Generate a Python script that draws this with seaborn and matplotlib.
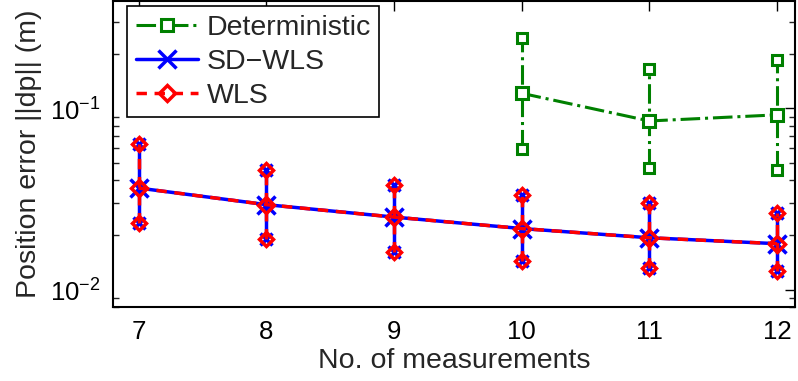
import numpy as np
import pandas as pd
import matplotlib
matplotlib.use("Agg")
import matplotlib.pyplot as plt
import seaborn as sns
from matplotlib.lines import Line2D

# ---- data ----
n_meas = [7, 8, 9, 10, 11, 12]
sdwls_mean = [0.0363, 0.0294, 0.0251, 0.0217, 0.0193, 0.0179]
sdwls_low = [0.0234, 0.0190, 0.0162, 0.0143, 0.0132, 0.0126]
sdwls_high = [0.0638, 0.0455, 0.0376, 0.0333, 0.0299, 0.0266]
wls_mean = [0.0363, 0.0294, 0.0251, 0.0217, 0.0193, 0.0179]
wls_low = [0.0234, 0.0190, 0.0162, 0.0143, 0.0132, 0.0126]
wls_high = [0.0638, 0.0455, 0.0376, 0.0333, 0.0299, 0.0266]
det_x = [10, 11, 12]
det_mean = [0.121, 0.0851, 0.092]
det_low = [0.0597, 0.0469, 0.0454]
det_high = [0.245, 0.164, 0.185]
xticks = [7, 8, 9, 10, 11, 12]

sns.set_theme(style="white")
plt.rcParams['font.family'] = ['Liberation Sans', 'DejaVu Sans']
plt.rcParams['mathtext.fontset'] = 'custom'
plt.rcParams['mathtext.rm'] = 'Liberation Sans'

fig = plt.figure(figsize=(7.98, 3.81), dpi=100)
ax = fig.add_axes([0.1416, 0.194, 0.8546, 0.803])

green = (0, 0.5, 0)
blue = (0, 0, 1)
red = (1, 0, 0)
dash_red = (0, (3, 2.2))

df_det = pd.DataFrame({"x": det_x, "y": det_mean})
df_sd = pd.DataFrame({"x": n_meas, "y": sdwls_mean})
df_wls = pd.DataFrame({"x": n_meas, "y": wls_mean})

# Deterministic
for xi, lo, hi in zip(det_x, det_low, det_high):
    ax.plot([xi, xi], [lo, hi], color=green, lw=2.2, ls='-.', zorder=2)
ax.plot(det_x, det_low, ls='none', marker='s', ms=6.5, mfc='white', mec=green, mew=2.2, zorder=3)
ax.plot(det_x, det_high, ls='none', marker='s', ms=6.5, mfc='white', mec=green, mew=2.2, zorder=3)
sns.lineplot(data=df_det, x="x", y="y", ax=ax, color=green, lw=2.2, zorder=3,
             marker='s', markersize=8.5, markerfacecolor='white', markeredgecolor=green,
             markeredgewidth=2.2)
ax.lines[-1].set_linestyle('-.')

# SD-WLS
for xi, lo, hi in zip(n_meas, sdwls_low, sdwls_high):
    ax.plot([xi, xi], [lo, hi], color=blue, lw=2.5, ls='-', zorder=4)
ax.plot(n_meas, sdwls_low, ls='none', marker='x', ms=8.5, mec=blue, mew=2.5, zorder=4)
ax.plot(n_meas, sdwls_high, ls='none', marker='x', ms=8.5, mec=blue, mew=2.5, zorder=4)
sns.lineplot(data=df_sd, x="x", y="y", ax=ax, color=blue, lw=2.5, zorder=4,
             marker='x', markersize=13, markeredgecolor=blue, markeredgewidth=2.5)

# WLS
for xi, lo, hi in zip(n_meas, wls_low, wls_high):
    ax.plot([xi, xi], [lo, hi], color=red, lw=2.5, ls=dash_red, zorder=5)
ax.plot(n_meas, wls_low, ls='none', marker='D', ms=7, mfc='none', mec=red, mew=2.5, zorder=5)
ax.plot(n_meas, wls_high, ls='none', marker='D', ms=7, mfc='none', mec=red, mew=2.5, zorder=5)
sns.lineplot(data=df_wls, x="x", y="y", ax=ax, color=red, lw=2.5, zorder=5,
             marker='D', markersize=8, markerfacecolor='none', markeredgecolor=red,
             markeredgewidth=2.5)
ax.lines[-1].set_linestyle(dash_red)

ax.set_yscale('log')
ax.set_xlim(6.8, 12.14)
ax.set_ylim(0.008, 0.39)
ax.set_xticks(xticks)
ax.set_xticklabels([str(v) for v in xticks])
ax.set_yticks([0.01, 0.1])
ax.set_yticklabels([r'$10^{-2}$', r'$10^{-1}$'])

ax.set_xlabel("No. of measurements", fontsize=20.5, labelpad=3)
ax.set_ylabel("Position error ||dp|| (m)", fontsize=20.5, labelpad=6)
ax.tick_params(axis='both', which='major', labelsize=18.5, direction='in', length=7,
               width=1, top=True, right=True, colors='black', pad=9)
ax.tick_params(axis='y', which='minor', direction='in', length=4, width=1,
               left=True, right=True)
ax.yaxis.set_minor_locator(matplotlib.ticker.LogLocator(base=10, subs=np.arange(2, 10)))
ax.yaxis.set_minor_formatter(matplotlib.ticker.NullFormatter())
for s in ax.spines.values():
    s.set_color('black')
    s.set_linewidth(1.5)

handles = [
    Line2D([], [], color=green, lw=2.2, ls='-.', marker='s', ms=8.5, mfc='white', mec=green, mew=2.2),
    Line2D([], [], color=blue, lw=2.5, ls='-', marker='x', ms=13, mec=blue, mew=2.5),
    Line2D([], [], color=red, lw=2.5, ls=dash_red, marker='D', ms=8, mfc='none', mec=red, mew=2.5),
]
leg = ax.legend(handles, ["Deterministic", "SD\u2212WLS", "WLS"], loc='upper left',
                fontsize=20.5, frameon=True, fancybox=False, edgecolor='black',
                framealpha=1, borderpad=0.3, labelspacing=0.28, handlelength=2.2,
                handletextpad=0.3, borderaxespad=0.0,
                bbox_to_anchor=(0.0205, 0.983))
leg.get_frame().set_linewidth(1.2)

fig.savefig("out.png", dpi=100)
